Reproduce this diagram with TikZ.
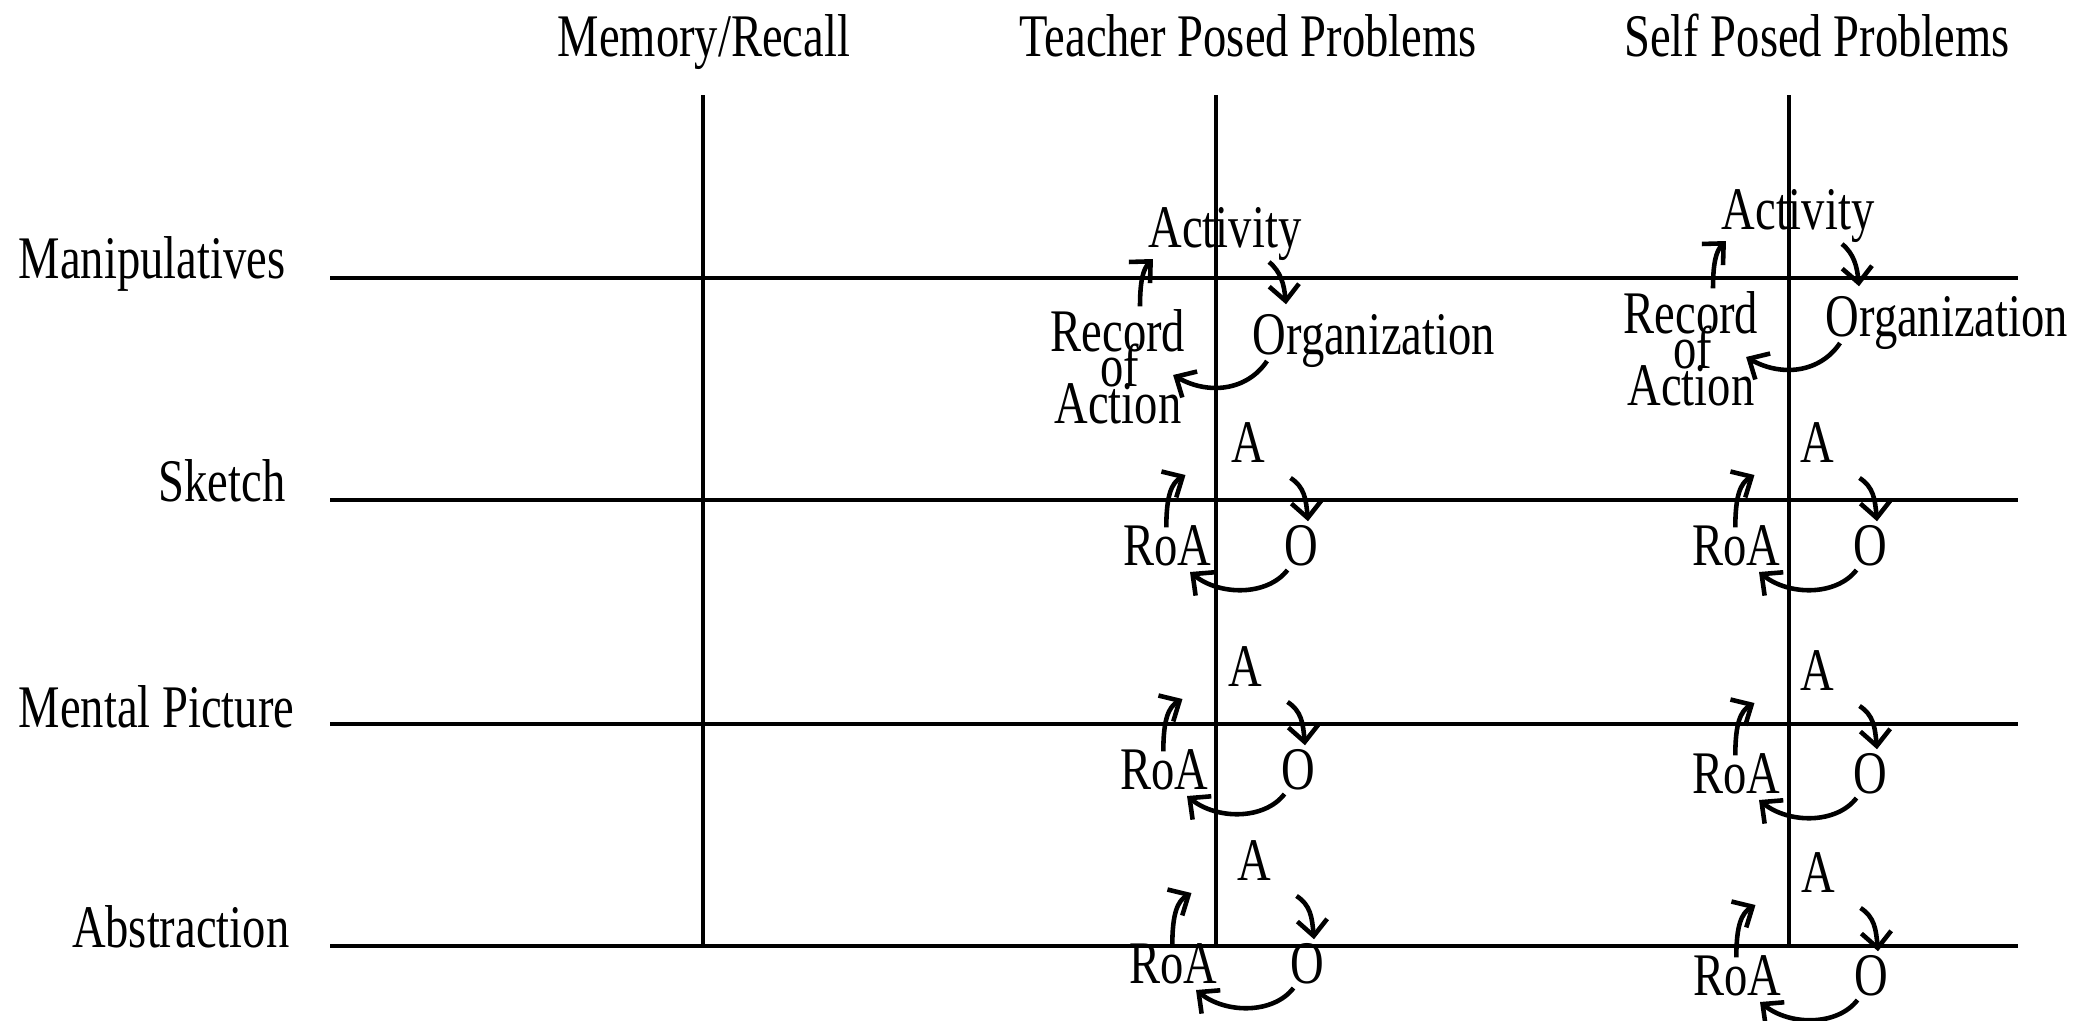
\documentclass[tikz,border=0pt]{standalone}
\usepackage{fontspec}
\setmainfont{Liberation Serif}[FakeStretch=0.77]
\usetikzlibrary{arrows.meta,calc}

\tikzset{
  lbl/.style={inner sep=0pt, font=\fontsize{17.2}{20}\selectfont},
  gridline/.style={line width=1.3pt},
  cyc/.style={line width=1.3pt, -{Straight Barb[length=4.5pt,width=8.5pt]}},
}

% Short cycle A -> O -> RoA -> A placed at a grid crossing (#2,#3), shifted by (#4,#5)
\newcommand\smallcyc[5]{%
  \node[lbl,anchor=base] (#1a) at ({#2+(#4)+32},{#3+(#5)-38}) {A};
  \node[lbl,anchor=base east] (#1r) at ({#2+(#4)-4},{#3+(#5)+65}) {RoA};
  \node[lbl,anchor=base] (#1o) at ({#2+(#4)+85},{#3+(#5)+65}) {O};
  \draw[cyc] ($(#1r.north)+(-1,3)$) .. controls +(0,-32) and +(-14,8) .. ($(#1a.base west)+(-45,13)$);
  \draw[cyc] ($(#1a.base east)+(25,16)$) .. controls +(14,9) and +(-2,-22) .. ($(#1o.north)+(7,-3)$);
  \draw[cyc] ($(#1o.base west)+(4,5)$) .. controls +(-20,26) and +(30,24) .. ($(#1r.base east)+(-22,7)$);
}

% Full cycle Activity -> Organization -> Record of Action -> Activity around (#2,#3)
\newcommand\bigcyc[3]{%
  \node[lbl,anchor=base] (#1act) at ({#2+9},{#3-31}) {Activity};
  \node[lbl,anchor=base west] (#1org) at ({#2+36},{#3+76}) {Organization};
  \node[lbl,anchor=base] (#1rec) at ({#2-98},{#3+73}) {Record};
  \node[lbl,anchor=base] (#1of) at ({#2-96},{#3+108}) {of};
  \node[lbl,anchor=base] (#1acn) at ({#2-98},{#3+145}) {Action};
  \draw[cyc] ($(#1rec.north)+(22,-2)$) .. controls +(0,-25) and +(-10,10) .. ($(#1act.base west)+(5,12)$);
  \draw[cyc] ($(#1act.base east)+(-33,15)$) .. controls +(12,10) and +(-2,-20) .. ($(#1org.north west)+(34,-9)$);
  \draw[cyc] ($(#1org.base west)+(15,7)$) .. controls +(-20,30) and +(35,20) .. ($(#1of.base east)+(33,-11)$);
}

\begin{document}
\begin{tikzpicture}[x=0.01cm,y=-0.01cm]
\useasboundingbox (0,0) rectangle (2075,1021);

% column headers
\node[lbl,anchor=base] (hmem)  at (704,57)  {Memory/Recall};
\node[lbl,anchor=base] (htea)  at (1248,57) {Teacher Posed Problems};
\node[lbl,anchor=base] (hself) at (1817,57) {Self Posed Problems};

% row labels
\node[lbl,anchor=base east] (rman) at (286,278) {Manipulatives};
\node[lbl,anchor=base east] (rsk)  at (286,501) {Sketch};
\node[lbl,anchor=base east] (rmp)  at (295,727) {Mental Picture};
\node[lbl,anchor=base east] (rab)  at (290,947) {Abstraction};

% grid
\foreach \n/\y in {1/278,2/500,3/724,4/946}{
  \coordinate (L\n) at (330,\y);
  \coordinate (R\n) at (2018,\y);
}
\foreach \n/\x in {m/703,t/1216,s/1789}{
  \coordinate (T\n) at (\x,95);
  \coordinate (B\n) at (\x,946);
}
\foreach \n in {1,...,4}{\draw[gridline] (L\n) -- (R\n);}
\foreach \n in {m,t,s}{\draw[gridline] (T\n) -- (B\n);}

% cycles: teacher posed problems
\bigcyc{tm}{1216}{278}
\smallcyc{ts}{1216}{500}{0}{0}
\smallcyc{tp}{1216}{724}{-3}{0}
\smallcyc{tb}{1216}{946}{6}{-28}

% cycles: self posed problems
\bigcyc{sm}{1789}{260}
\smallcyc{ss}{1789}{500}{-4}{0}
\smallcyc{sp}{1789}{724}{-4}{4}
\smallcyc{sb}{1789}{946}{-3}{-16}
\end{tikzpicture}
\end{document}
